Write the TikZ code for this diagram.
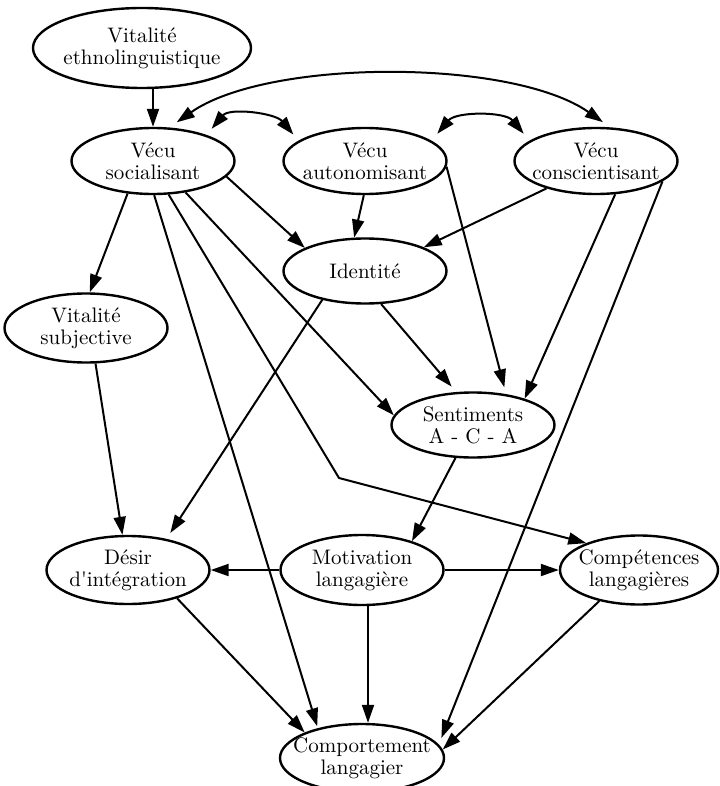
\documentclass[tikz,border=0pt]{standalone}
\usepackage{tikz}
\tikzset{%
    bubble/.style={ellipse, draw, line width=1.2pt, inner sep=-6pt, align=center, minimum width=81.5pt, minimum height=33pt, font=\fontsize{10.5}{11}\selectfont},
    pfeil/.style={-{Triangle[length=9pt, width=6pt]}, line width=1pt},
    doppelpfeil/.style={{Triangle[length=9pt, width=6pt]}-{Triangle[length=9pt, width=6pt]}, line width=1pt}
}
\usetikzlibrary{shapes.geometric, arrows.meta}

\begin{document}
\begin{tikzpicture}[x=0.5pt, y=0.5pt]
    \useasboundingbox (0,0) rectangle (719,-786);
    % nodes
    \node[bubble, minimum width=109pt, minimum height=40pt] (vitethno) at (142,-48) {Vitalité\\ethnolinguistique};
    \node[bubble] (vecsoc) at (153,-161) {Vécu\\socialisant};
    \node[bubble] (vecaut) at (365,-161) {Vécu\\autonomisant};
    \node[bubble] (veccon) at (596,-161) {Vécu\\conscientisant};
    \node[bubble, minimum height=32.5pt] (identite) at (365,-271) {Identité};
    \node[bubble, minimum height=34.5pt] (vitsubj) at (86,-328) {Vitalité\\subjective};
    \node[bubble, minimum height=32.5pt] (sentiments) at (473,-425) {Sentiments\\A - C - A};
    \node[bubble, minimum height=34pt] (desir) at (128,-570) {Désir\\d\textquotesingle intégration};
    \node[bubble, minimum height=35pt] (motivation) at (362,-570) {Motivation\\langagière};
    \node[bubble, minimum width=79pt, minimum height=34.5pt] (competences) at (639,-570) {Compétences\\langagières};
    \node[bubble, minimum width=82pt, minimum height=34pt] (comportement) at (362,-758) {Comportement\\langagier};
    \coordinate (knick) at (339,-478);
    % arcs on top
    \draw[pfeil] (vecsoc.north |- vitethno.south) -- (vecsoc.north);
    \draw[doppelpfeil, shorten <=4.5pt, shorten >=4.5pt] (vecsoc.64) to[out=35, in=145, looseness=0.7] (veccon.67);
    \draw[doppelpfeil, shorten <=4pt, shorten >=4pt] (vecsoc.26) to[out=50, in=130] (vecaut.163);
    \draw[doppelpfeil, shorten <=4.5pt, shorten >=4.5pt] (vecaut.17) to[out=50, in=130] (veccon.163);
    % links
    \draw[pfeil] (vecsoc.-12) -- (identite.159);
    \draw[pfeil] (vecaut.-92) -- (identite.108);
    \draw[pfeil] (veccon.209) -- (identite.22);
    \draw[pfeil] (vecsoc.232) -- (vitsubj.84);
    \draw[pfeil, shorten >=1pt] (vecsoc.-88) -- (comportement.146);
    \draw[pfeil] (vecsoc.-44) -- (sentiments.173);
    \draw[pfeil] (vecsoc.-65) -- (knick) -- (competences.153);
    \draw[pfeil, shorten >=3.5pt] (vecaut.-4) -- (sentiments.43);
    \draw[pfeil] (veccon.-60) -- (sentiments.27);
    \draw[pfeil, shorten >=3.5pt] (veccon.-17) -- (comportement.10);
    \draw[pfeil, shorten >=3.5pt] (identite.-64) -- (sentiments.117);
    \draw[pfeil, shorten >=3.5pt] (identite.214) -- (desir.39);
    \draw[pfeil] (vitsubj.-75) -- (desir.99);
    \draw[pfeil] (sentiments.242) -- (motivation.30);
    \draw[pfeil] (motivation) -- (desir);
    \draw[pfeil] (motivation) -- (competences);
    \draw[pfeil] ([xshift=3pt]motivation.south) -- ([xshift=3pt]comportement.north);
    \draw[pfeil] (desir.-30) -- (comportement.156);
    \draw[pfeil] (competences.218) -- (comportement.6);
\end{tikzpicture}
\end{document}
